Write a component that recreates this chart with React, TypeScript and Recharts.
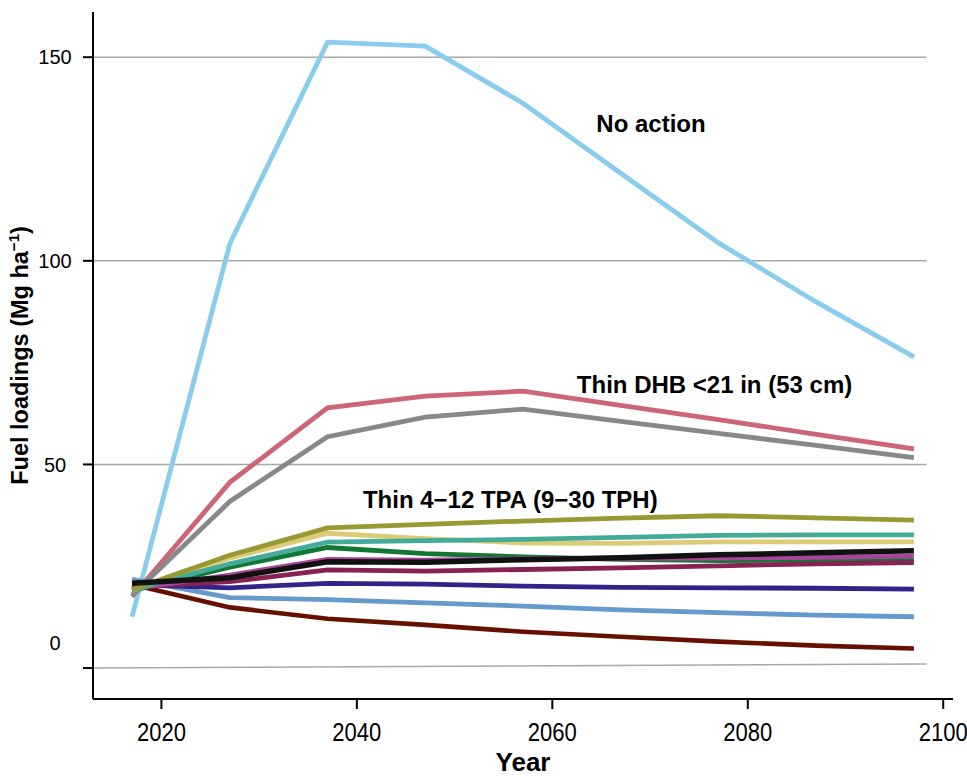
import React from 'react';
import { LineChart, Line, XAxis, YAxis, ReferenceLine, ReferenceDot, Label } from 'recharts';

// simulation years (10-year steps)
const years = [2017, 2027, 2037, 2047, 2057, 2067, 2077, 2087, 2097];

// fuel loadings, Mg/ha
const noAction = [12.6, 104.2, 153.7, 152.7, 138.7, 121.5, 104.4, 89.9, 76.4];
const thinDbh = [17.5, 45.6, 63.9, 66.8, 68.0, 64.5, 61.0, 57.4, 53.8];
const thinDbhAlt = [17.9, 40.9, 56.8, 61.6, 63.6, 60.6, 57.6, 54.7, 51.7];
const tpa4 = [19.3, 27.7, 34.4, 35.3, 36.1, 36.8, 37.4, 36.9, 36.3];
const tpa5 = [19.0, 27.0, 33.1, 31.8, 30.7, 30.6, 31.0, 31.0, 31.0];
const tpa6 = [19.2, 25.6, 30.9, 31.3, 31.6, 32.1, 32.6, 32.7, 32.7];
const tpa7 = [19.0, 24.8, 29.6, 28.1, 27.3, 26.7, 26.4, 26.5, 26.6];
const tpa8 = [19.5, 22.8, 26.7, 26.5, 26.8, 26.9, 27.0, 27.2, 27.5];
const tpa9 = [20.0, 21.2, 24.1, 23.8, 24.2, 24.6, 25.1, 25.6, 25.9];
const tpa10 = [20.5, 19.7, 20.8, 20.6, 20.1, 19.8, 19.7, 19.6, 19.4];
const tpa11 = [21.8, 17.3, 16.8, 16.0, 15.2, 14.3, 13.6, 13.0, 12.6];
const tpa12 = [20.5, 14.9, 12.1, 10.6, 8.9, 7.7, 6.5, 5.5, 4.8];
const meanThin = [20.8, 22.2, 26.1, 26.0, 26.6, 27.1, 27.8, 28.3, 28.8];

const xTicks = [2020, 2040, 2060, 2080, 2100];
const yTicks = [0, 50, 100, 150];
const gridValues = [50, 100, 150];

const rows = years.map((year, i) => ({
  year,
  noAction: noAction[i],
  thinDbh: thinDbh[i],
  thinDbhAlt: thinDbhAlt[i],
  tpa4: tpa4[i],
  tpa5: tpa5[i],
  tpa6: tpa6[i],
  tpa7: tpa7[i],
  tpa8: tpa8[i],
  tpa9: tpa9[i],
  tpa10: tpa10[i],
  tpa11: tpa11[i],
  tpa12: tpa12[i],
  meanThin: meanThin[i],
}));

const FONT = "'Liberation Sans', Arial, Helvetica, sans-serif";

// drawing order: first is bottom
const series = [
  { key: 'noAction', color: '#88CCEE', width: 4.8 },
  { key: 'thinDbh', color: '#CC6677', width: 4.8 },
  { key: 'thinDbhAlt', color: '#888888', width: 4.8 },
  { key: 'tpa12', color: '#661100', width: 4.6 },
  { key: 'tpa11', color: '#6699CC', width: 4.8 },
  { key: 'tpa10', color: '#332288', width: 4.8 },
  { key: 'tpa7', color: '#117733', width: 4.8 },
  { key: 'tpa9', color: '#882255', width: 4.8 },
  { key: 'tpa8', color: '#AA4499', width: 4.8 },
  { key: 'tpa5', color: '#DDCC77', width: 4.8 },
  { key: 'tpa6', color: '#44AA99', width: 4.8 },
  { key: 'tpa4', color: '#999933', width: 4.8 },
  { key: 'meanThin', color: '#111111', width: 5.5 },
];

const XTick = (props: any) => {
  const { x, y, payload } = props;
  return (
    <text x={x} y={y + 32} textAnchor="middle" fontSize={25} fontFamily={FONT} fill="#000"
      textLength={49} lengthAdjust="spacingAndGlyphs">
      {payload.value}
    </text>
  );
};

const YTick = (props: any) => {
  const { x, y, payload } = props;
  // the zero label sits a bit above its tick in the original
  const shift = payload.value === 0 ? -25 : 0;
  return (
    <text x={x - 28} y={y + shift} dy="0.36em" textAnchor="middle" fontSize={20} fontFamily={FONT} fill="#000">
      {payload.value}
    </text>
  );
};

const YTitle = (props: any) => {
  const vb = props.viewBox || { x: 0, y: 12, width: 93, height: 687 };
  const cx = vb.x + 28;
  const cy = vb.y + vb.height / 2;
  return (
    <text x={cx} y={cy} transform={`rotate(-90 ${cx} ${cy})`} textAnchor="middle" fontSize={23.5}
      fontWeight="bold" fontFamily={FONT} fill="#000">
      Fuel loadings (Mg ha<tspan dy={-9} fontSize={15}>{'\u22121'}</tspan><tspan dy={9}>)</tspan>
    </text>
  );
};

const XTitle = (props: any) => {
  const vb = props.viewBox || { x: 93, y: 699, width: 860, height: 77 };
  return (
    <text x={vb.x + vb.width / 2} y={vb.y + 72} textAnchor="middle" fontSize={26} fontWeight="bold"
      fontFamily={FONT} fill="#000">
      Year
    </text>
  );
};

const notes = [
  { text: 'No action', year: 2070.1, value: 133.8 },
  { text: 'Thin DHB <21 in (53 cm)', year: 2076.6, value: 69.7 },
  { text: 'Thin 4\u221212 TPA (9\u221230 TPH)', year: 2055.7, value: 41.4 },
];

const gridStart = 2013;
const gridEnd = 2098.3;

export default function App() {
  return (
    <div style={{ position: 'absolute', left: 0, top: 0, width: 967, height: 776, background: '#fff', fontFamily: FONT }}>
      <LineChart width={967} height={776} data={rows} margin={{ top: 12, right: 14, left: 0, bottom: 0 }}>
        <XAxis dataKey="year" type="number" domain={[2013, 2101]} ticks={xTicks} allowDataOverflow
          height={77} tickSize={10} tickMargin={0} stroke="#000" strokeWidth={2}
          tick={<XTick />} label={<Label content={<XTitle />} />} />
        <YAxis type="number" domain={[-7.6, 161.1]} ticks={yTicks} allowDataOverflow
          width={93} tickSize={10} tickMargin={0} stroke="#000" strokeWidth={2}
          tick={<YTick />} label={<Label content={<YTitle />} />} />
        {gridValues.map((v) => (
          <ReferenceLine key={v} segment={[{ x: gridStart, y: v }, { x: gridEnd, y: v }]}
            stroke="#a8a8a8" strokeWidth={1.5} />
        ))}
        <ReferenceLine segment={[{ x: gridStart, y: 0 }, { x: gridEnd, y: 1 }]} stroke="#a8a8a8" strokeWidth={1.5} />
        {series.map((s) => (
          <Line key={s.key} dataKey={s.key} type="linear" stroke={s.color} strokeWidth={s.width}
            dot={false} activeDot={false} isAnimationActive={false} />
        ))}
        {notes.map((n) => (
          <ReferenceDot key={n.text} x={n.year} y={n.value} r={0} stroke="none" fill="none"
            label={{ value: n.text, position: 'center', fontSize: 24, fontWeight: 'bold', fill: '#000', fontFamily: FONT }} />
        ))}
      </LineChart>
    </div>
  );
}
